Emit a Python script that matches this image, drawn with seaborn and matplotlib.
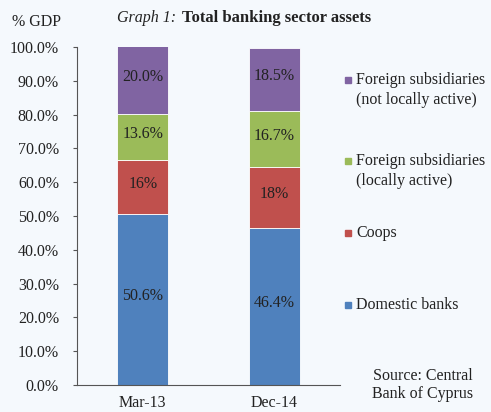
import matplotlib
matplotlib.use("Agg")
import matplotlib.pyplot as plt
import seaborn as sns
import pandas as pd
import numpy as np

categories = ["Mar-13", "Dec-14"]
series_names = ["Domestic banks", "Coops", "Foreign subsidiaries\n(locally active)",
                "Foreign subsidiaries\n(not locally active)"]
domestic = [50.6, 46.4]
coops = [16, 18]
foreign_local = [13.6, 16.7]
foreign_nonlocal = [20.0, 18.5]
bar_labels = [["50.6%", "46.4%"], ["16%", "18%"], ["13.6%", "16.7%"], ["20.0%", "18.5%"]]
yticks = [0, 10, 20, 30, 40, 50, 60, 70, 80, 90, 100]
colors = ["#4F81BD", "#C0504D", "#9BBB59", "#8064A2"]

sns.set_theme(style="white")
plt.rcParams["font.family"] = ["Liberation Serif", "DejaVu Serif"]

bg = "#F5F9FD"
tc = "#222222"
fig = plt.figure(figsize=(4.91, 4.12), dpi=100, facecolor=bg)
ax = fig.add_axes([77/491, 27/412, 263/491, 338/412])
ax.set_facecolor(bg)

series = [domestic, coops, foreign_local, foreign_nonlocal]
bottoms = np.zeros(len(categories))
for vals, name, col, labs in zip(series, series_names, colors, bar_labels):
    bars = ax.bar(categories, vals, bottom=bottoms, width=0.39, color=col,
                  edgecolor="white", linewidth=0.6, label=name)
    for b, l in zip(bars, labs):
        ax.text(b.get_x() + b.get_width()/2, b.get_y() + b.get_height()/2 + 1.0, l,
                ha="center", va="center", fontsize=11.5, color=tc)
    bottoms = bottoms + np.array(vals)

sns.despine(ax=ax, top=True, right=True)
ax.set_xlim(-0.5, 1.5)
ax.set_ylim(0, 100)
ax.set_yticks(yticks)
ax.set_yticklabels([f"{t:.1f}%" for t in yticks], fontsize=11.5, color=tc)
ax.tick_params(axis="y", which="both", left=True, length=3, width=0.8, color="#555555", pad=10)
ax.tick_params(axis="x", bottom=False, labelsize=11.5, labelcolor=tc, pad=1)
for s in ["left", "bottom"]:
    ax.spines[s].set_color("#555555")
    ax.spines[s].set_linewidth(0.8)

fig.text(12/491, 1 - 22/412, "% GDP", fontsize=11.5, va="center", ha="left", color=tc)
fig.text(176/491, 1 - 18/412, "Graph 1:", fontsize=11.5, style="italic", va="center", ha="right", color=tc)
fig.text(182/491, 1 - 18/412, "Total banking sector assets", fontsize=12, weight="bold",
         va="center", ha="left", color=tc)

legend_items = [
    (3, ["Foreign subsidiaries", "(not locally active)"], 80),
    (2, ["Foreign subsidiaries", "(locally active)"], 161),
    (1, ["Coops"], 233),
    (0, ["Domestic banks"], 305),
]
for idx, lines, y in legend_items:
    fig.patches.append(plt.Rectangle((345/491, 1 - (y + 3)/412), 6/491, 6/412,
                                     transform=fig.transFigure, color=colors[idx]))
    for k, line in enumerate(lines):
        fig.text(356/491, 1 - (y + 20*k)/412, line, fontsize=11.5, va="center",
                 ha="left", color=tc)

fig.text(423/491, 1 - 376/412, "Source: Central", fontsize=11.5, ha="center", va="center", color=tc)
fig.text(423/491, 1 - 394/412, "Bank of Cyprus", fontsize=11.5, ha="center", va="center", color=tc)

fig.savefig("out.png", dpi=100, facecolor=bg)
